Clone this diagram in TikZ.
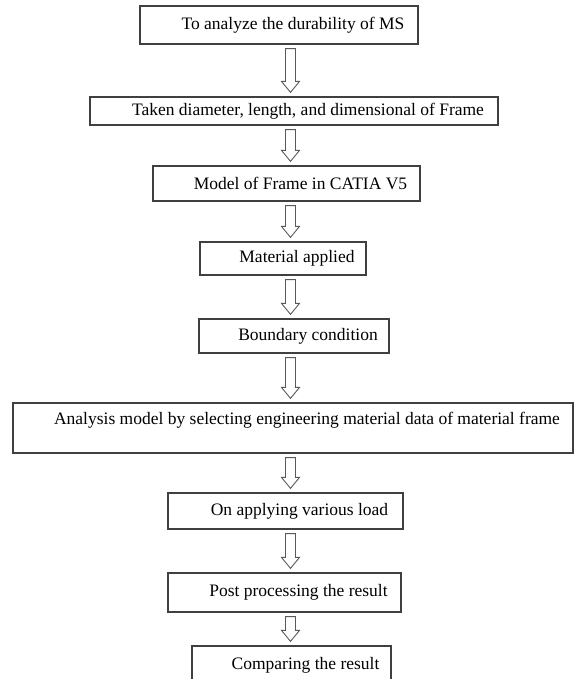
\documentclass[tikz,border=0pt]{standalone}
\usepackage{fontspec}
\setmainfont{Liberation Serif}
\usetikzlibrary{calc}
\newcommand{\hollowarrow}[2]{%
  \draw[arr] let \p1=(#1.south), \p2=(#2.north) in
    (285.5pt,\y1-4pt) -- (285.5pt,\y2+15pt) -- (281.5pt,\y2+15pt)
    -- (290.5pt,\y2+4pt) -- (299.5pt,\y2+15pt) -- (295.5pt,\y2+15pt)
    -- (295.5pt,\y1-4pt) -- cycle;}

\begin{document}
\begin{tikzpicture}[x=1pt, y=1pt,
  font=\fontsize{17.5}{20}\selectfont,
  box/.style={draw=black!75, line width=1.2pt, minimum width=#1,
              inner sep=0pt, align=center,
              execute at begin node={\hspace*{28pt}}},
  arr/.style={draw=black!65, line width=0.9pt, fill=white}
]
  \useasboundingbox (0,0) rectangle (574,679);
  \clip (0,0) rectangle (574,679);
  \node[box=278pt, minimum height=38pt] (aim) at (279,654)
        {To analyze the durability of MS};
  \node[box=408pt, minimum height=28pt] (dims) at (294,568)
        {Taken diameter, length, and dimensional of Frame};
  \node[box=267pt, minimum height=35pt] (catia) at (286.5,495.5)
        {Model of Frame in CATIA V5};
  \node[box=166pt, minimum height=33pt] (mat) at (283,420.5)
        {Material applied};
  \node[box=190pt, minimum height=34pt] (bc) at (294,343)
        {Boundary condition};
  \node[box=560pt, minimum height=50pt] (anal) at (293,251)
        {Analysis model by selecting engineering material data of material frame\\ \mbox{}};
  \node[box=235pt, minimum height=36pt] (load) at (285.5,168)
        {On applying various load};
  \node[box=233pt, minimum height=39pt] (post) at (284.5,86.5)
        {Post processing the result};
  \node[box=199pt, minimum height=38pt] (comp) at (291.5,14)
        {Comparing the result};
  \hollowarrow{aim}{dims}
  \hollowarrow{dims}{catia}
  \hollowarrow{catia}{mat}
  \hollowarrow{mat}{bc}
  \hollowarrow{bc}{anal}
  \hollowarrow{anal}{load}
  \hollowarrow{load}{post}
  \hollowarrow{post}{comp}
\end{tikzpicture}
\end{document}
